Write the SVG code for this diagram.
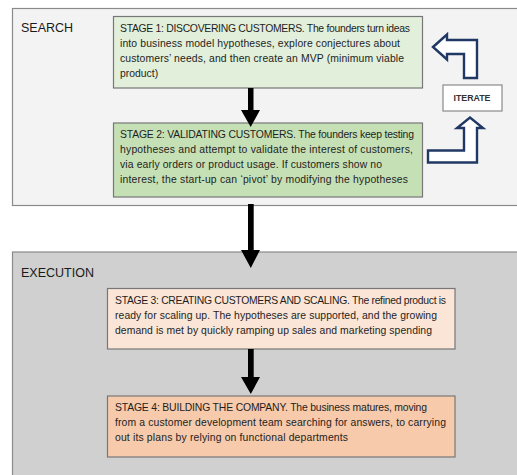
<svg xmlns="http://www.w3.org/2000/svg" width="517" height="475" viewBox="0 0 517 475">
  <style>
    .panel { stroke: #8a8a8a; stroke-width: 1.2; }
    .box { stroke: #777777; stroke-width: 1.2; }
    .txt { font-family: "Liberation Sans", Arial, sans-serif; font-size: 10.4px; fill: #1e1e1e; }
    .label { font-family: "Liberation Sans", Arial, sans-serif; font-size: 12.5px; fill: #1a1a1a; }
    .down { fill: #000000; }
    .iter { fill: #ffffff; stroke: #1f3864; stroke-width: 2.4; stroke-linejoin: miter; }
  </style>
  <rect width="517" height="475" fill="#ffffff"/>

  <!-- phase panels -->
  <g id="search-phase">
    <rect class="panel" x="12.5" y="8.5" width="520" height="197" fill="#f3f3f3"/>
    <text class="label" x="21" y="32">SEARCH</text>
  </g>
  <g id="execution-phase">
    <rect class="panel" x="12.5" y="252" width="520" height="240" fill="#cfd0cf"/>
    <text class="label" x="21" y="277">EXECUTION</text>
  </g>

  <!-- stages -->
  <g id="stage1">
    <rect class="box" x="113.5" y="16.5" width="309" height="71.5" fill="#e2efda"/>
    <text class="txt">
      <tspan x="120" y="32" textLength="290">STAGE 1: DISCOVERING CUSTOMERS. The founders turn ideas</tspan>
      <tspan x="120" y="47" textLength="280">into business model hypotheses, explore conjectures about</tspan>
      <tspan x="120" y="62" textLength="284">customers’ needs, and then create an MVP (minimum viable</tspan>
      <tspan x="120" y="77">product)</tspan>
    </text>
  </g>
  <g id="stage2">
    <rect class="box" x="113.5" y="123" width="309" height="74" fill="#c6e0b5"/>
    <text class="txt">
      <tspan x="120" y="138" textLength="294">STAGE 2: VALIDATING CUSTOMERS. The founders keep testing</tspan>
      <tspan x="120" y="153" textLength="293">hypotheses and attempt to validate the interest of customers,</tspan>
      <tspan x="120" y="168" textLength="262">via early orders or product usage. If customers show no</tspan>
      <tspan x="120" y="183" textLength="288">interest, the start-up can ‘pivot’ by modifying the hypotheses</tspan>
    </text>
  </g>
  <g id="iterate">
    <rect x="443" y="85" width="59" height="26" fill="#ffffff" stroke="#8a8a8a" stroke-width="1.2"/>
    <text x="472" y="100.5" text-anchor="middle" font-family="Liberation Sans, Arial, sans-serif" font-size="8.8" font-weight="bold" fill="#333333">ITERATE</text>
  </g>
  <g id="stage3">
    <rect class="box" x="107.5" y="288.5" width="347.5" height="60.5" fill="#fbe5d6"/>
    <text class="txt">
      <tspan x="115" y="304" textLength="331">STAGE 3: CREATING CUSTOMERS AND SCALING. The refined product is</tspan>
      <tspan x="115" y="319" textLength="322">ready for scaling up. The hypotheses are supported, and the growing</tspan>
      <tspan x="115" y="334" textLength="317">demand is met by quickly ramping up sales and marketing spending</tspan>
    </text>
  </g>
  <g id="stage4">
    <rect class="box" x="107.5" y="396" width="347.5" height="61" fill="#f6caab"/>
    <text class="txt">
      <tspan x="115" y="411" textLength="312">STAGE 4: BUILDING THE COMPANY. The business matures, moving</tspan>
      <tspan x="115" y="426" textLength="331">from a customer development team searching for answers, to carrying</tspan>
      <tspan x="115" y="441" textLength="233">out its plans by relying on functional departments</tspan>
    </text>
  </g>

  <!-- connectors -->
  <g id="connectors">
    <polygon class="down" points="248,88 253.5,88 253.5,110 260,110 250.7,127 241,110 248,110"/>
    <polygon class="down" points="248,204 253.7,204 253.7,250 260,250 250.8,268 241,250 248,250"/>
    <polygon class="down" points="248,349 253.7,349 253.7,377 260,377 250.8,394 241,377 248,377"/>
    <!-- iterate loop arrows -->
    <polygon class="iter" points="433,47 447,34.5 447,40 477,40 477,78 464,78 464,54 447,54 447,59.5"/>
    <polygon class="iter" points="428,150.5 464,150.5 464,128 457,128 470,117.5 483,128 477,128 477,162.5 428,162.5"/>
  </g>
</svg>
